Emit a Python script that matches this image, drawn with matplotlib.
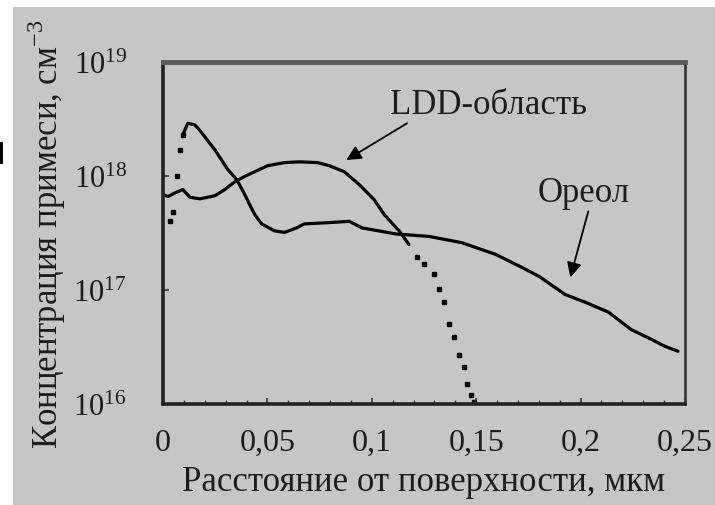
import matplotlib
matplotlib.use("Agg")
import matplotlib.pyplot as plt
from matplotlib.patches import Rectangle
from matplotlib.ticker import FixedLocator, MultipleLocator

plt.rcParams['font.family'] = ['Liberation Serif', 'DejaVu Serif']
plt.rcParams['mathtext.fontset'] = 'custom'
plt.rcParams['mathtext.rm'] = 'Liberation Serif'

# LDD region profile
ldd_x = [0.0, 0.0024, 0.0057, 0.0095, 0.0129, 0.0177, 0.0248, 0.0296, 0.0344,
         0.0391, 0.0439, 0.0501, 0.0582, 0.0654, 0.074, 0.0797, 0.0868, 0.094,
         0.1011, 0.1059, 0.1131, 0.1178]
ldd_y = [6.9e17, 6.6e17, 7.1e17, 7.6e17, 6.5e17, 6.3e17, 6.7e17, 7.6e17, 8.9e17,
         9.9e17, 1.09e18, 1.23e18, 1.31e18, 1.33e18, 1.31e18, 1.23e18, 1.09e18, 8.4e17,
         6.2e17, 4.6e17, 3.3e17, 2.5e17]
# steep tail of LDD profile, sparse points
ldd_tail_x = [0.1217, 0.125, 0.1298, 0.1322, 0.1345, 0.1369, 0.1393, 0.1417,
              0.1441, 0.1455, 0.1474, 0.1489]
ldd_tail_y = [1.93e17, 1.68e17, 1.37e17, 1.01e17, 7.9e16, 5.0e16, 3.9e16, 2.7e16,
              2.1e16, 1.5e16, 1.2e16, 1.05e16]

# halo profile
halo_rise_x = [0.0033, 0.0048, 0.0067, 0.0081, 0.0095]
halo_rise_y = [4.0e17, 4.8e17, 1.0e18, 1.7e18, 2.3e18]
halo_x = [0.0095, 0.0119, 0.0153, 0.0177, 0.0248, 0.031, 0.0353, 0.0391, 0.0415,
          0.0439, 0.0472, 0.0534, 0.0582, 0.0639, 0.0677, 0.0797, 0.0892, 0.0954,
          0.1116, 0.1274, 0.1431, 0.1594, 0.1718, 0.18, 0.1927, 0.2023, 0.2133,
          0.2242, 0.2338, 0.2405, 0.2467]
halo_y = [2.3e18, 2.9e18, 2.8e18, 2.5e18, 1.7e18, 1.14e18, 9.3e17, 6.9e17, 5.6e17,
          4.6e17, 3.8e17, 3.3e17, 3.2e17, 3.5e17, 3.8e17, 3.9e17, 4.0e17, 3.5e17,
          3.1e17, 2.95e17, 2.6e17, 2.05e17, 1.58e17, 1.32e17, 9.1e16, 7.8e16, 6.4e16,
          4.5e16, 3.7e16, 3.2e16, 2.9e16]

xticks = [0, 0.05, 0.1, 0.15, 0.2, 0.25]
xticklabels = ['0', '0,05', '0,1', '0,15', '0,2', '0,25']
yticks = [1e16, 1e17, 1e18, 1e19]
yticklabels = [r'$\mathregular{10^{16}}$', r'$\mathregular{10^{17}}$',
               r'$\mathregular{10^{18}}$', r'$\mathregular{10^{19}}$']

bg = '#c6c6c6'
ink = '#1c1c1c'

fig = plt.figure(figsize=(7.15, 5.06), dpi=100, facecolor='white')
fig.patches.append(Rectangle((13 / 715, 0), 702 / 715, 498 / 506,
                             transform=fig.transFigure, facecolor=bg,
                             edgecolor='none', zorder=-10))
fig.patches.append(Rectangle((0, 1 - 165 / 506), 3 / 715, 22 / 506,
                             transform=fig.transFigure, facecolor='black',
                             edgecolor='none'))

ax = fig.add_axes([0.228, 0.1996, 0.730, 0.676])
ax.set_facecolor(bg)
ax.set_yscale('log')
ax.set_xlim(0, 0.25)
ax.set_ylim(1e16, 1e19)

ax.plot(ldd_x, ldd_y, color='black', lw=2.3, solid_capstyle='round')
ax.plot(ldd_tail_x, ldd_tail_y, ls='none', marker='s', ms=3.0, color='black')
ax.plot(halo_rise_x, halo_rise_y, ls='none', marker='s', ms=3.0, color='black')
ax.plot(halo_x, halo_y, color='black', lw=2.3, solid_capstyle='round')

ax.set_xticks(xticks)
ax.set_xticklabels(xticklabels)
ax.xaxis.set_minor_locator(MultipleLocator(0.01))
ax.yaxis.set_major_locator(FixedLocator(yticks))
ax.set_yticklabels(yticklabels)
ax.yaxis.set_minor_locator(FixedLocator([]))
ax.tick_params(axis='both', which='both', direction='in', color='#333333',
               labelcolor=ink)
ax.tick_params(axis='x', which='major', length=4, width=1.2, labelsize=23, pad=17)
ax.tick_params(axis='x', which='minor', length=3, width=1.0)
ax.tick_params(axis='y', which='major', length=4, width=1.2, labelsize=22, pad=26)

for side in ['left', 'bottom']:
    ax.spines[side].set_color('#222222')
    ax.spines[side].set_linewidth(2.6)
ax.spines['top'].set_color('#5a5a5a')
ax.spines['top'].set_linewidth(3.5)
ax.spines['right'].set_color('#3a3a3a')
ax.spines['right'].set_linewidth(2.0)

ax.set_xlabel('Расстояние от поверхности, мкм', fontsize=25, color=ink, labelpad=6)
ax.set_ylabel(r'Концентрация примеси, см$^{\mathregular{-3}}$', fontsize=25,
              color=ink, labelpad=4)

# labels and their arrows
ax.text(0.156, 4.2e18, 'LDD-область', fontsize=25, color=ink,
        ha='center', va='center')
ax.annotate('', xy=(0.0878, 1.38e18), xytext=(0.1169, 2.9e18),
            arrowprops=dict(arrowstyle='-|>', color='black', lw=1.3,
                            mutation_scale=22, shrinkA=0, shrinkB=0))
ax.text(0.2013, 7.1e17, 'Ореол', fontsize=25, color=ink,
        ha='center', va='center')
ax.annotate('', xy=(0.1951, 1.29e17), xytext=(0.2037, 4.9e17),
            arrowprops=dict(arrowstyle='-|>', color='black', lw=1.3,
                            mutation_scale=22, shrinkA=0, shrinkB=0))

fig.savefig('out.png', dpi=100, facecolor='white')
